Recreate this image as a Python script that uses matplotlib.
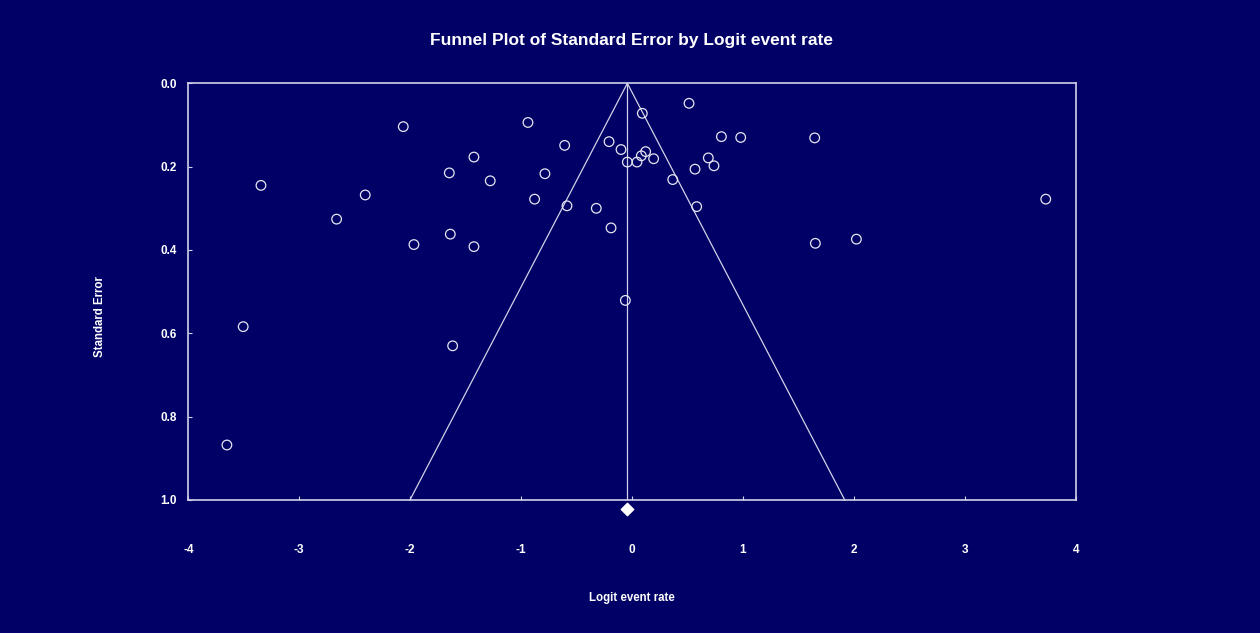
import matplotlib
matplotlib.use("Agg")
import matplotlib.pyplot as plt
import numpy as np

# Study data: logit event rate and standard error
logit = [-2.062, -0.938, -0.607, -1.425, -1.647, -1.278, -0.785, -3.345, -2.405, -2.663,
         -0.878, -0.586, -0.322, -0.207, -0.099, -0.042, 0.045, -0.189, -1.638, -1.966,
         -1.425, -0.060, -3.505, -1.617, 0.514, 0.093, 0.084, 0.123, 0.195, 0.806,
         0.980, 1.647, 0.688, 0.739, 0.568, 0.367, 0.583, 1.653, 2.023, 3.730, -3.652]
se = [0.104, 0.094, 0.149, 0.177, 0.215, 0.234, 0.217, 0.245, 0.268, 0.326,
      0.278, 0.294, 0.300, 0.140, 0.159, 0.189, 0.189, 0.347, 0.362, 0.387,
      0.392, 0.521, 0.584, 0.630, 0.048, 0.072, 0.174, 0.164, 0.181, 0.128,
      0.130, 0.131, 0.179, 0.198, 0.206, 0.231, 0.296, 0.384, 0.374, 0.278, 0.868]
pooled = -0.042
z = 1.96

xticks = [-4, -3, -2, -1, 0, 1, 2, 3, 4]
yticks = [0.0, 0.2, 0.4, 0.6, 0.8, 1.0]
ytick_labels = ["0.0", "0.2", "0.4", "0.6", "0.8", "1.0"]

bg = "#000066"
fg = "#D2D2EA"
plt.rcParams['font.family'] = ['Liberation Sans', 'DejaVu Sans']

fig = plt.figure(figsize=(12.6, 6.33), dpi=100, facecolor=bg)
ax = fig.add_axes([188.3/1260, 1 - 500/633, (1075.7-188.3)/1260, (500-83.3)/633])
ax.set_facecolor(bg)

se_max = 1.0
# funnel lines
ax.plot([pooled - z*se_max, pooled, pooled + z*se_max], [se_max, 0, se_max],
        color=fg, lw=0.9, clip_on=False)
ax.plot([pooled, pooled], [0, se_max], color=fg, lw=0.9)

ax.scatter(logit, se, s=48, facecolors='none', edgecolors='#E6E6F2', linewidths=0.9, zorder=3)
ax.scatter([pooled], [1.022], marker='D', s=40, color='white', clip_on=False, zorder=4)

ax.set_xlim(-4, 4)
ax.set_ylim(1.0, 0.0)
ax.set_xticks(xticks)
ax.set_xticklabels([str(t) for t in xticks])
ax.set_yticks(yticks)
ax.set_yticklabels(ytick_labels)
for s in ax.spines.values():
    s.set_color(fg)
    s.set_linewidth(1.2)
ax.tick_params(direction='in', length=3, color=fg, labelcolor='white', labelsize=8.5)
ax.tick_params(axis='x', pad=32)
ax.tick_params(axis='y', pad=8)
for lab in ax.get_xticklabels() + ax.get_yticklabels():
    lab.set_fontweight('bold')

fig.text(631/1260, 1 - 40/633, "Funnel Plot of Standard Error by Logit event rate",
         ha='center', va='center', color='white', fontsize=12.5, fontweight='bold')
fig.text(100/1260, 1 - 317/633, "Standard Error", rotation=90, ha='center', va='center',
         color='white', fontsize=8.3, fontweight='bold')
fig.text(632/1260, 1 - 598/633, "Logit event rate", ha='center', va='center',
         color='white', fontsize=8.3, fontweight='bold')

fig.savefig("out.png", dpi=100, facecolor=bg)
